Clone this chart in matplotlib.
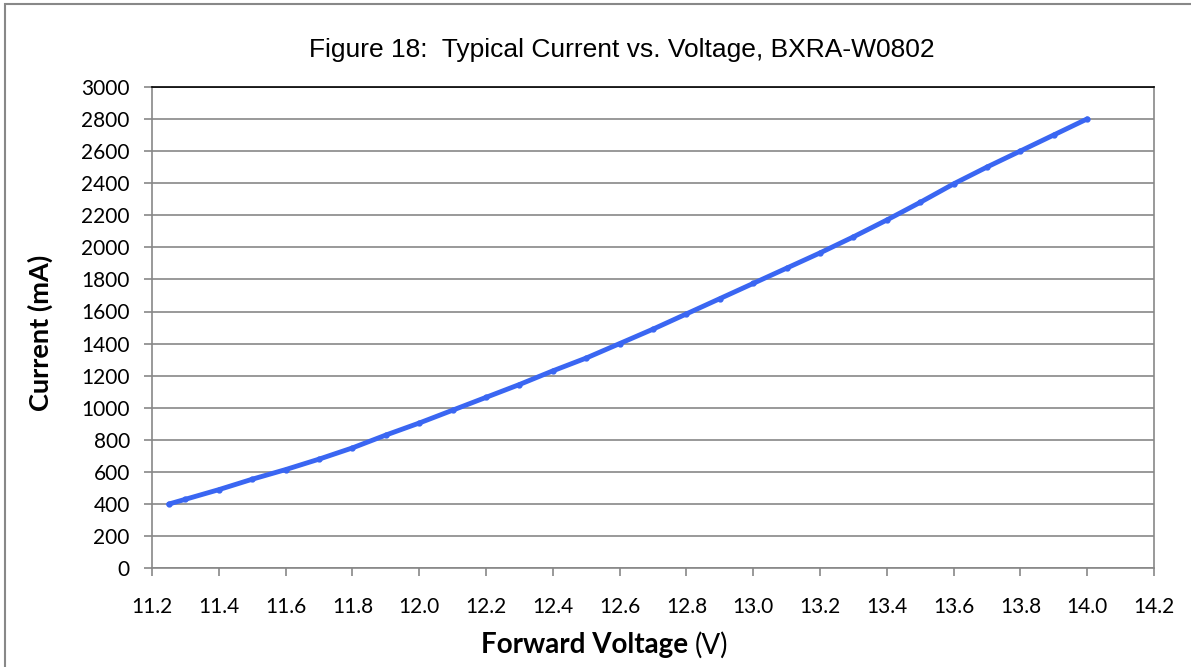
import matplotlib
matplotlib.use('Agg')
import matplotlib.pyplot as plt
from matplotlib.patches import Rectangle

# forward voltage (V) and current (mA)
voltage = [11.25, 11.3, 11.4, 11.5, 11.6, 11.7, 11.8, 11.9, 12.0, 12.1,
           12.2, 12.3, 12.4, 12.5, 12.6, 12.7, 12.8, 12.9, 13.0, 13.1,
           13.2, 13.3, 13.4, 13.5, 13.6, 13.7, 13.8, 13.9, 14.0]
current = [400, 430, 490, 555, 615, 680, 750, 830, 905, 985,
           1065, 1145, 1230, 1310, 1400, 1490, 1585, 1680, 1775, 1870,
           1965, 2065, 2170, 2280, 2395, 2500, 2600, 2700, 2800]

x_ticks = [11.2, 11.4, 11.6, 11.8, 12.0, 12.2, 12.4, 12.6, 12.8, 13.0,
           13.2, 13.4, 13.6, 13.8, 14.0, 14.2]
y_ticks = list(range(0, 3001, 200))

W, H = 1191, 667
fig = plt.figure(figsize=(W / 100, H / 100), dpi=100)

# outer chart frame (only left/top visible in the original)
fig.patches.append(Rectangle((5 / W, -0.01), 1.1, 1 - 4 / H + 0.01,
                             transform=fig.transFigure, fill=False,
                             edgecolor='#888888', linewidth=1.5))

ax = fig.add_axes([152 / W, 1 - 568.3 / H, (1154 - 152) / W, (568.3 - 86.8) / H])

ax.plot(voltage, current, color='#3A66F2', linewidth=3.5,
        marker='o', markersize=3.5, solid_capstyle='round', zorder=3)

ax.set_xlim(11.2, 14.2)
ax.set_ylim(0, 3000)
ax.set_xticks(x_ticks)
ax.set_xticklabels(['{:.1f}'.format(v) for v in x_ticks])
ax.set_yticks(y_ticks)
ax.set_yticklabels([str(v) for v in y_ticks])

ax.grid(True, axis='y', color='#878787', linewidth=1.2)
ax.set_axisbelow(True)
for s in ['left', 'right', 'bottom']:
    ax.spines[s].set_color('#878787')
    ax.spines[s].set_linewidth(1.2)
ax.spines['top'].set_color('#000000')
ax.spines['top'].set_linewidth(1.2)

ax.tick_params(axis='both', direction='out', length=6, width=1.2,
               color='#878787', labelsize=15, labelcolor='black')
ax.tick_params(axis='x', pad=15)
ax.tick_params(axis='y', pad=10)
for lbl in ax.get_xticklabels() + ax.get_yticklabels():
    lbl.set_family('Lato')

fig.text(622 / W, 1 - 50 / H, 'Figure 18:  Typical Current vs. Voltage, BXRA-W0802',
         ha='center', va='center', fontsize=19, family='Liberation Sans')

fig.text(40 / W, 1 - 333 / H, 'Current (mA)', rotation=90, ha='center', va='center',
         fontsize=19.5, fontweight='bold', family='Lato')

fig.text(695 / W, 1 - 645 / H, 'Forward Voltage ', ha='right', va='center',
         fontsize=20, fontweight='bold', family='Lato')
fig.text(695 / W, 1 - 645 / H, '(V)', ha='left', va='center',
         fontsize=20, family='Lato')

fig.savefig('out.png', dpi=100)
